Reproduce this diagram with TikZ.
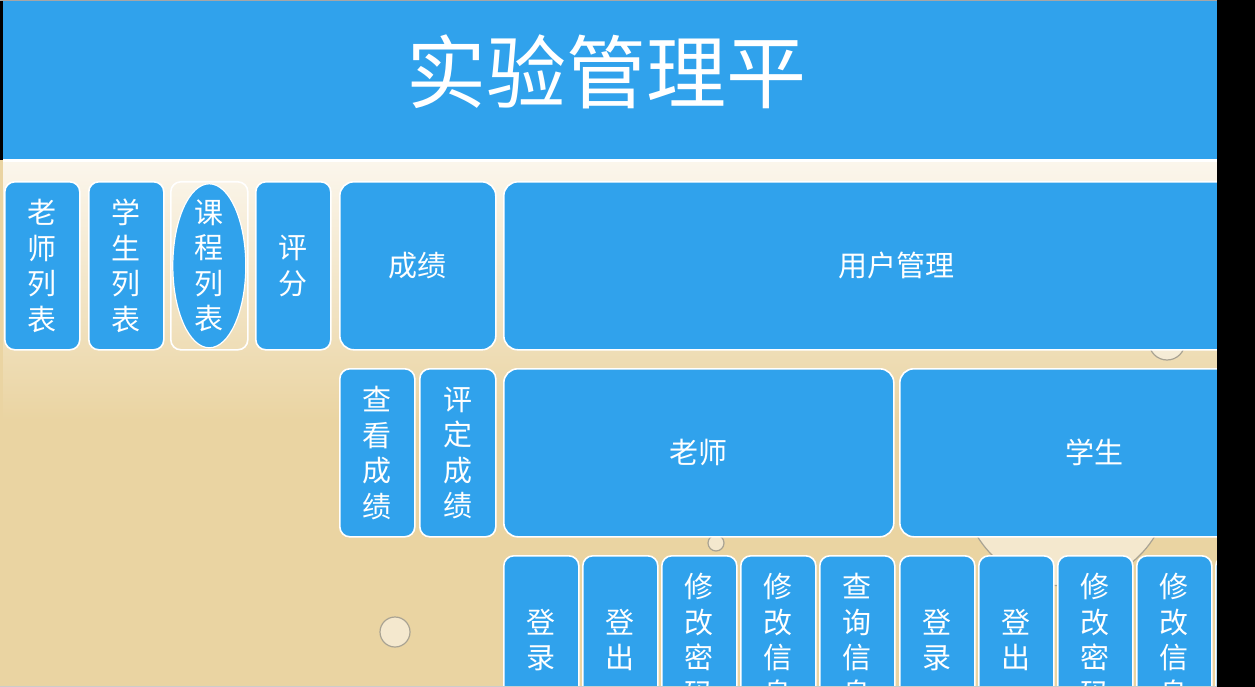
\documentclass[tikz,border=0pt]{standalone}
\usepackage{fontspec}
\setmainfont{Noto Sans CJK SC}
\definecolor{PanelBlue}{HTML}{30A2EC}
\definecolor{WoodBeige}{HTML}{EAD4A2}
\definecolor{WoodLight}{HTML}{FBF6EC}
\definecolor{DropGray}{HTML}{A9A393}
\usetikzlibrary{positioning, shapes.geometric}

\begin{document}
\begin{tikzpicture}[x=1pt, y=-1pt,
  tile/.style={draw=white, line width=1.6pt, fill=PanelBlue, rounded corners=10pt,
    anchor=north west, inner sep=0pt, text=white, align=center,
    font=\fontsize{29}{35.5}\selectfont},
  narrow/.style={tile, minimum width=75pt, minimum height=168pt},
  drop/.style={draw=DropGray, line width=1.2pt, fill=WoodLight, fill opacity=0.6}]
  \useasboundingbox (0,0) rectangle (1255,687);
  \clip (0,0) rectangle (1255,687);

  %% page background
  \fill[WoodBeige] (0,0) rectangle (1255,687);
  \shade[top color=WoodLight, bottom color=WoodBeige] (3,162) rectangle (1217,420);
  \fill[white] (3,159) rectangle (1217,162);
  \fill[PanelBlue] (3,1) rectangle (1217,159);
  \fill[black] (0,0) rectangle (3,160);
  \draw[gray!70, line width=1pt] (0,0.5) -- (1255,0.5);

  %% water drops of the texture
  \draw[drop] (395,632) circle (15);
  \draw[drop] (716,543) circle (8);
  \draw[drop] (1167,342) circle (18);
  \draw[drop] (1066,482) circle (104);

  %% title
  \node[text=white, font=\fontsize{80}{80}\selectfont] (title) at (606,72) {实验管理平};

  %% first row
  \node[narrow] (tlist) at (4,181) {老\\师\\列\\表};
  \node[narrow] (slist) at (88,181) {学\\生\\列\\表};
  \node[narrow, fill=none, minimum width=77pt] (clist) at (170,181) {};
  \fill[PanelBlue, draw=white, line width=1.2pt] (clist.center) ellipse (36.5 and 82);
  \node[text=white, align=center, font=\fontsize{29}{35.5}\selectfont] (clabel)
    at (clist.center) {课\\程\\列\\表};
  \node[narrow] (grade) at (255,181) {评\\分};
  \node[tile, minimum width=156pt, minimum height=168pt, rounded corners=14pt] (score) at (339,181) {成绩};
  \node[tile, minimum width=786pt, minimum height=168pt, rounded corners=14pt] (users) at (503,181) {用户管理};

  %% second row
  \node[narrow] (view) at (339,368) {查\\看\\成\\绩};
  \node[narrow, minimum width=76pt] (rate) at (419,368) {评\\定\\成\\绩};
  \node[tile, minimum width=390pt, minimum height=168pt, rounded corners=14pt] (teacher) at (503,368) {老师};
  \node[tile, minimum width=390pt, minimum height=168pt, rounded corners=14pt] (student) at (899,368) {学生};

  %% third row
  \foreach \i/\x/\lbl in {1/503/{登\\录}, 2/582/{登\\出}, 3/661/{修\\改\\密\\码},
      4/740/{修\\改\\信\\息}, 5/819/{查\\询\\信\\息}, 6/899/{登\\录},
      7/978/{登\\出}, 8/1057/{修\\改\\密\\码}, 9/1136/{修\\改\\信\\息},
      10/1215/{}}{
    \node[narrow] (op\i) at (\x,555) {\lbl};
  }

  %% window frame
  \fill[black] (1217,0) rectangle (1255,687);
  \draw[gray!40, line width=1pt] (0,686) -- (1217,686);
\end{tikzpicture}
\end{document}
